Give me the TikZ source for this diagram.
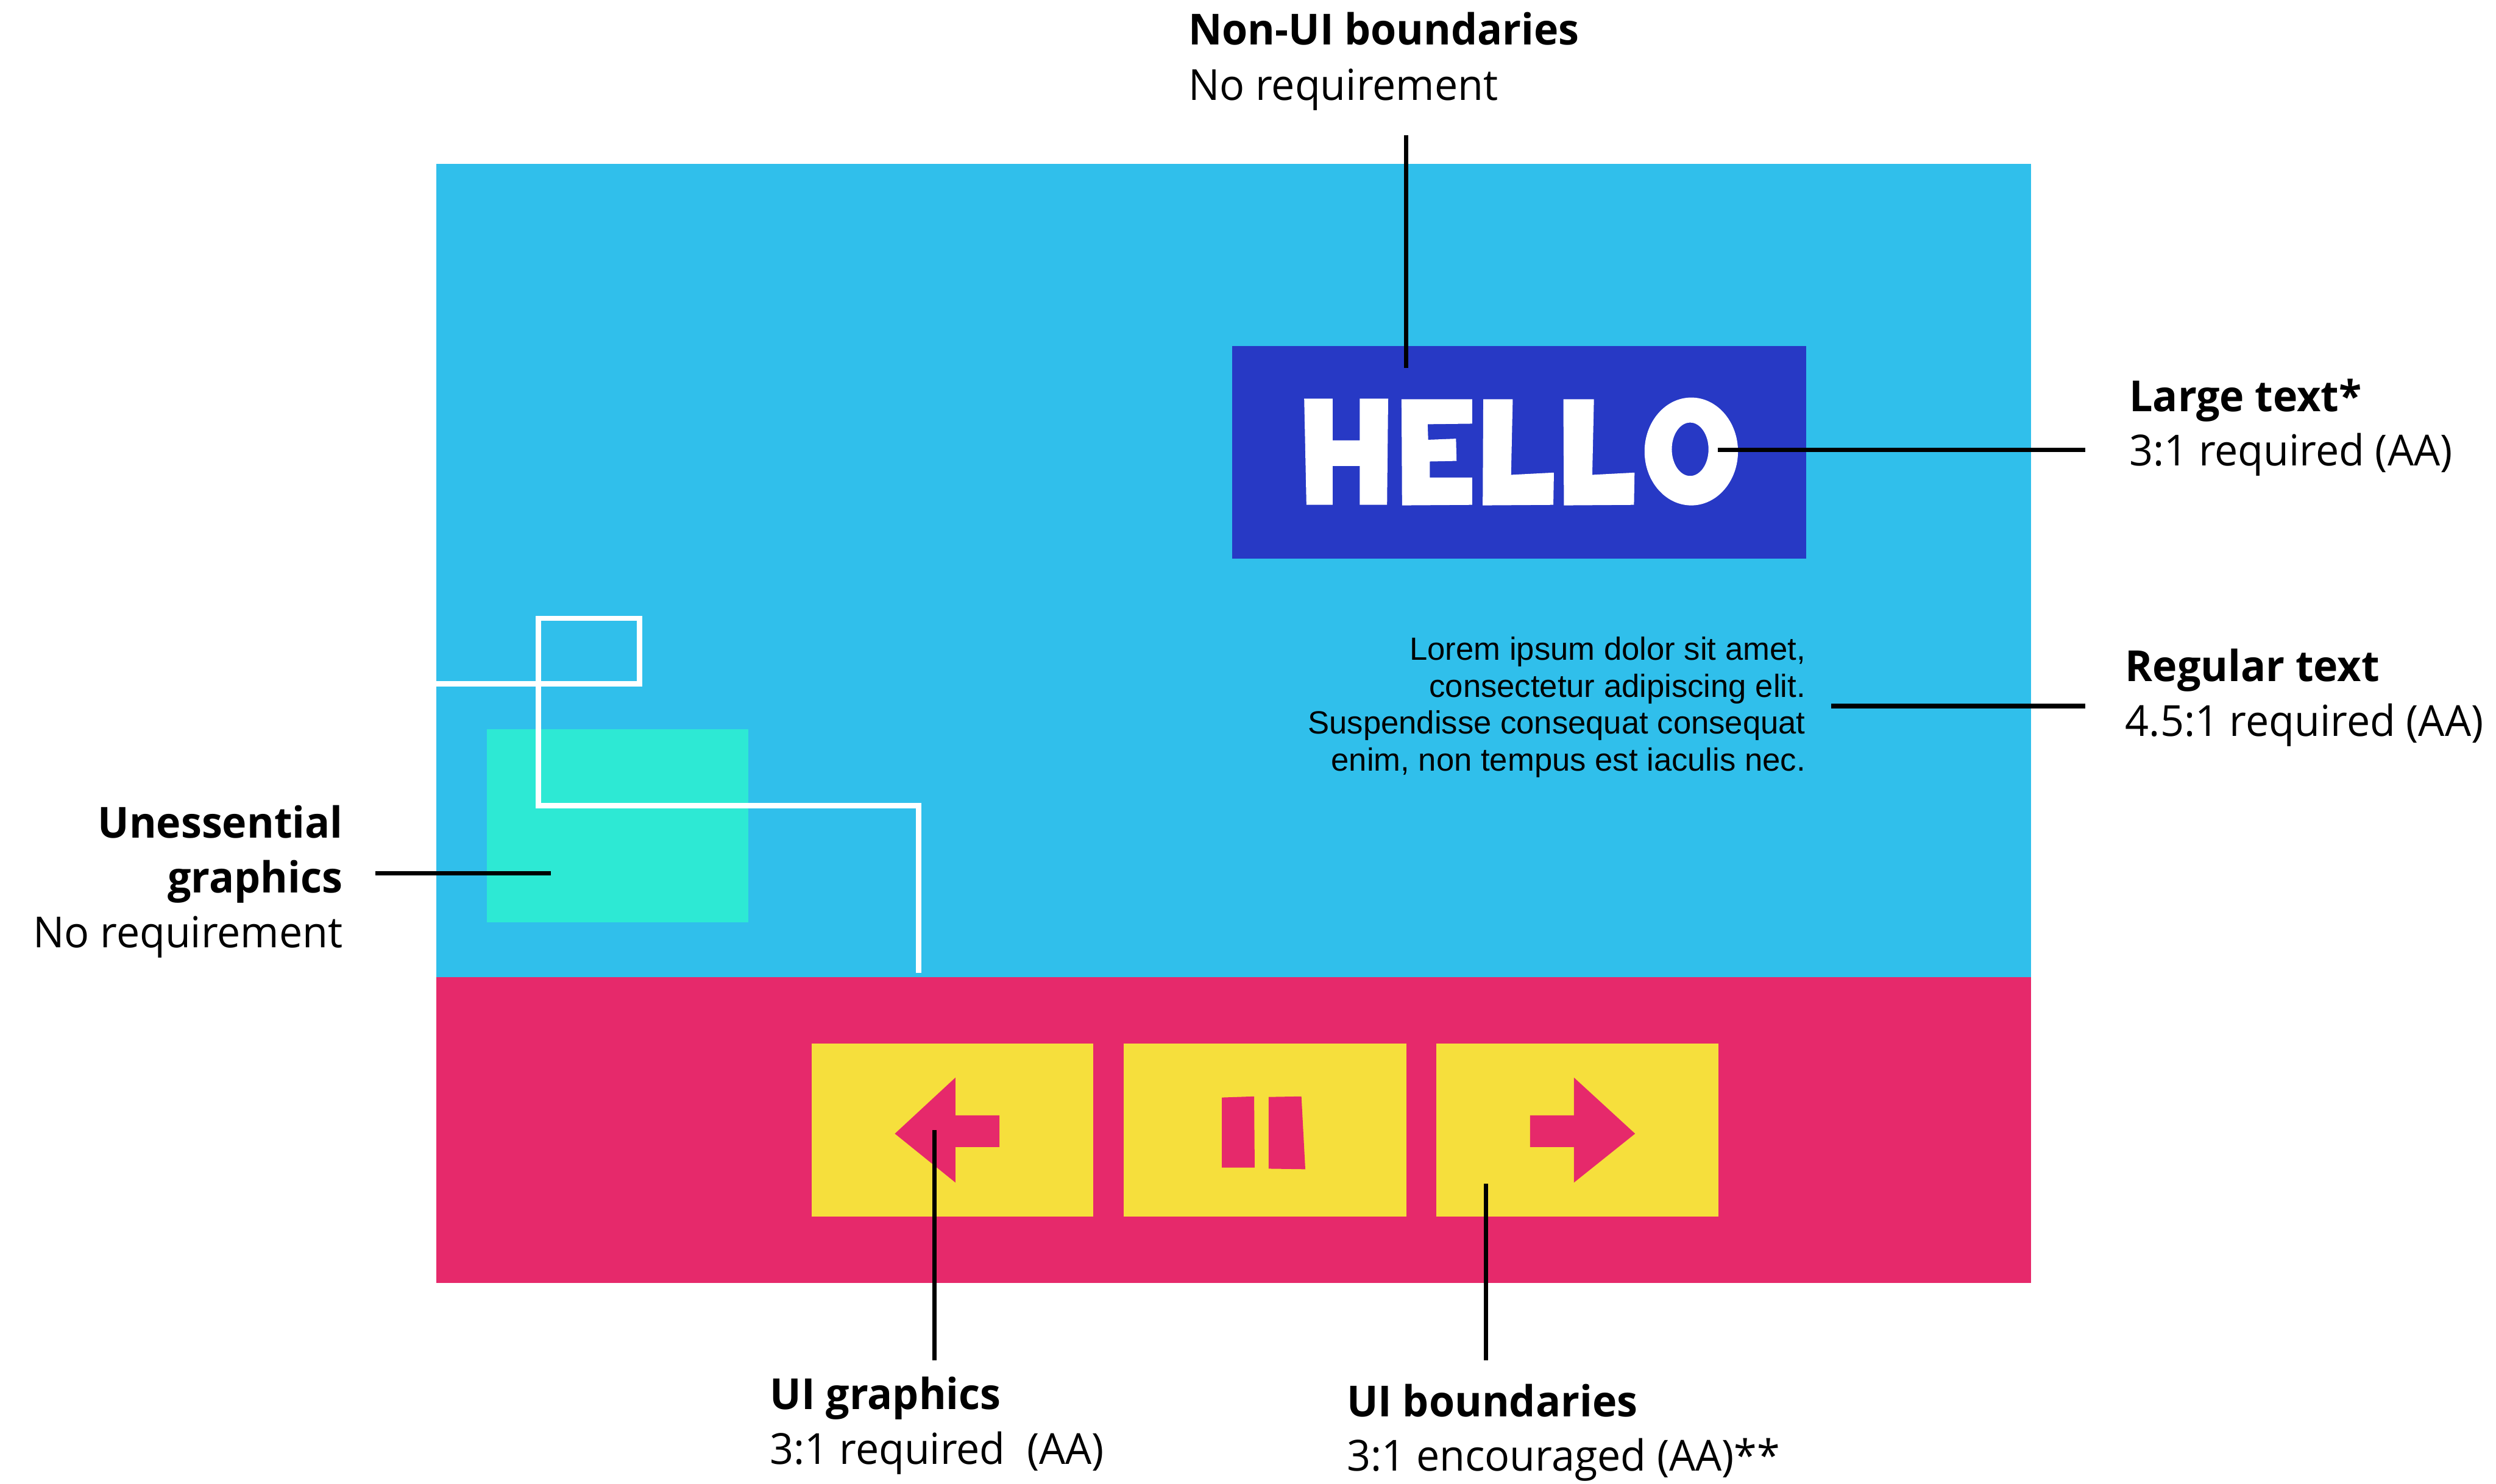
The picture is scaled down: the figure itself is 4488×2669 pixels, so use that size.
\documentclass[tikz,border=0pt]{standalone}
\usepackage{fontspec}
\setmainfont[FakeStretch=0.97]{Open Sans}
\newfontfamily\bodyfont{Liberation Sans}

\definecolor{screenblue}{RGB}{48,191,235}
\definecolor{hellobox}{RGB}{39,57,197}
\definecolor{barpink}{RGB}{230,41,107}
\definecolor{btnyellow}{RGB}{246,223,60}
\definecolor{decoteal}{RGB}{45,233,212}

\begin{document}
\begin{tikzpicture}[x=0.01cm,y=-0.01cm,
  callout/.style={line width=2.3pt,black},
  deco/.style={line width=2.65pt,white,miter limit=10},
  ttl/.style={font=\fontsize{21.9pt}{28pt}\selectfont\bfseries,inner sep=0pt,anchor=base west},
  sub/.style={font=\fontsize{21.9pt}{28pt}\selectfont,inner sep=0pt,anchor=base west},
  ttlr/.style={ttl,anchor=base east},
  subr/.style={sub,anchor=base east},
  body/.style={font=\bodyfont\fontsize{16.4pt}{19pt}\selectfont,inner sep=0pt,anchor=base east}]

\useasboundingbox (0,0) rectangle (4488,2669);
\fill[white] (0,0) rectangle (4488,2669);

% screen and control bar
\fill[screenblue] (784,295) rectangle (3652,1758);
\fill[barpink] (784,1758) rectangle (3652,2308);

% decorative graphics
\fill[decoteal] (875,1312) rectangle (1345,1659);
\draw[deco] (784,1230) -- (1150,1230) -- (1150,1112) -- (968,1112)
  -- (968,1449) -- (1652,1449) -- (1652,1750);

% HELLO heading
\fill[hellobox] (2216,622) rectangle (3248,1005);
\fill[white] (2345,717) -- (2396,717) -- (2396,792) -- (2445,792) -- (2445,717)
  -- (2496,717) -- (2494,908) -- (2445,908) -- (2445,838) -- (2396,838)
  -- (2396,908) -- (2349,908) -- cycle;
\fill[white] (2520,718) -- (2647,718) -- (2647,762) -- (2567,763) -- (2568,791)
  -- (2618,789) -- (2619,829) -- (2571,830) -- (2571,859) -- (2647,859)
  -- (2647,908) -- (2521,909) -- cycle;
\fill[white] (2667,718) -- (2720,718) -- (2717,854) -- (2794,850) -- (2793,908)
  -- (2666,909) -- cycle;
\fill[white] (2811,718) -- (2866,718) -- (2863,854) -- (2939,850) -- (2938,908)
  -- (2812,909) -- cycle;
\fill[white,even odd rule] (3041,812) ellipse [x radius=84, y radius=97]
  (3039,808) ellipse [x radius=33, y radius=48];

% body copy
\node[body] (lorem1) at (3247,1187) {Lorem ipsum dolor sit amet,};
\node[body] (lorem2) at (3247,1254) {consectetur adipiscing elit.};
\node[body] (lorem3) at (3247,1320) {Suspendisse consequat consequat};
\node[body] (lorem4) at (3247,1387) {enim, non tempus est iaculis nec.};

% control buttons
\fill[btnyellow] (1460,1877) rectangle (1966,2188);
\fill[btnyellow] (2020,1877) rectangle (2529,2188);
\fill[btnyellow] (2582,1877) rectangle (3090,2188);
\fill[barpink] (1609,2039) -- (1718,1938) -- (1718,2006) -- (1797,2006)
  -- (1797,2063) -- (1718,2063) -- (1718,2127) -- cycle;
\fill[barpink] (2197,1974) -- (2255,1972) -- (2256,2100) -- (2197,2100) -- cycle;
\fill[barpink] (2281,1973) -- (2340,1972) -- (2347,2103) -- (2281,2102) -- cycle;
\fill[barpink] (2940,2039) -- (2830,1938) -- (2830,2006) -- (2751,2006)
  -- (2751,2063) -- (2830,2063) -- (2830,2127) -- cycle;

% labels
\node[ttl] (nonui-t) at (2136,81) {Non-UI boundaries};
\node[sub] (nonui-s) at (2136,180) {No requirement};
\node[ttl] (large-t) at (3828,740) {Large text*};
\node[sub] (large-s) at (3828,838) {3:1 required (AA)};
\node[ttl] (regular-t) at (3821,1225) {Regular text};
\node[sub] (regular-s) at (3821,1324) {4.5:1 required (AA)};
\node[ttlr] (uness-t1) at (617,1507) {Unessential};
\node[ttlr] (uness-t2) at (617,1606) {graphics};
\node[subr] (uness-s) at (617,1704) {No requirement};
\node[ttl] (uigfx-t) at (1384,2535) {UI graphics};
\node[sub] (uigfx-s) at (1384,2634) {3:1 required\ \ (AA)};
\node[ttl] (uibnd-t) at (2421,2548) {UI boundaries};
\node[sub] (uibnd-s) at (2421,2645) {3:1 encouraged (AA)**};

% callout end points
\coordinate (nonui-a) at (2528,243);
\coordinate (nonui-b) at (2528,662);
\coordinate (large-a) at (3749,809);
\coordinate (large-b) at (3089,809);
\coordinate (regular-a) at (3749,1270);
\coordinate (regular-b) at (3292,1270);
\coordinate (uness-a) at (675,1571);
\coordinate (uness-b) at (990,1571);
\coordinate (uigfx-a) at (1680,2447);
\coordinate (uigfx-b) at (1680,2033);
\coordinate (uibnd-a) at (2672,2447);
\coordinate (uibnd-b) at (2672,2129);

\draw[callout] (nonui-a) -- (nonui-b);
\draw[callout] (large-a) -- (large-b);
\draw[callout] (regular-a) -- (regular-b);
\draw[callout] (uness-a) -- (uness-b);
\draw[callout] (uigfx-a) -- (uigfx-b);
\draw[callout] (uibnd-a) -- (uibnd-b);
\end{tikzpicture}
\end{document}
